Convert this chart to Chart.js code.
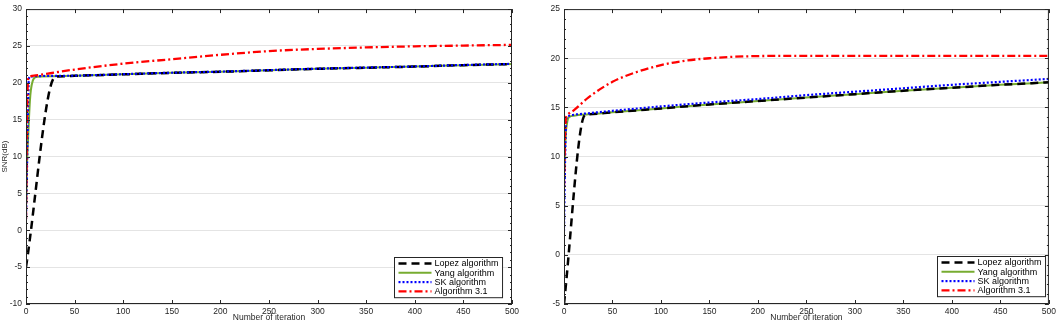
<!DOCTYPE html>
<html>
<head>
<meta charset="utf-8">
<script src="https://cdn.jsdelivr.net/npm/chart.js@4.4.0/dist/chart.umd.min.js"></script>
<style>
  body { margin: 0; background: #fff; }
  #wrap { position: relative; width: 1059px; height: 322px; }
  canvas { position: absolute; top: 0; }
</style>
</head>
<body>
<div id="wrap">
  <canvas id="leftChart" width="530" height="322" style="left:0"></canvas>
  <canvas id="rightChart" width="529" height="322" style="left:530px"></canvas>
</div>
<script>
const seriesNames = ["Lopez algorithm", "Yang algorithm", "SK algorithm", "Algorithm 3.1"];

// ---- left panel ----
const lopezIterL = [0, 30, 40, 50, 100, 150, 200, 250, 300, 350, 400, 450, 500];
const lopezSnrL = [-5, 20.8, 20.9, 20.95, 21.15, 21.35, 21.5, 21.7, 21.9, 22.05, 22.2, 22.4, 22.55];
const yangIterL = [0, 1, 2, 3, 4, 5, 7, 10, 15, 50, 100, 150, 200, 250, 300, 350, 400, 450, 500];
const yangSnrL = [3, 9, 12, 15, 17.5, 19, 20.3, 20.8, 20.85, 20.95, 21.15, 21.35, 21.5, 21.7, 21.9, 22.05, 22.2, 22.4, 22.55];
const skIterL = [0, 1, 2, 3, 5, 10, 50, 100, 150, 200, 250, 300, 350, 400, 450, 500];
const skSnrL = [1.5, 8, 16, 20.6, 20.85, 20.9, 20.97, 21.17, 21.37, 21.52, 21.72, 21.92, 22.07, 22.22, 22.42, 22.57];
const algIterL = [0, 1, 2, 3, 5, 10, 25, 50, 100, 150, 200, 250, 300, 350, 400, 450, 500];
const algSnrL = [1.5, 15, 20.3, 20.8, 20.9, 21.0, 21.3, 21.8, 22.6, 23.2, 23.8, 24.3, 24.6, 24.8, 24.95, 25.05, 25.15];

// ---- right panel ----
const lopezIterR = [0, 21, 25, 50, 100, 150, 200, 250, 300, 350, 400, 450, 500];
const lopezSnrR = [-5, 14.15, 14.3, 14.5, 14.9, 15.3, 15.65, 16.0, 16.35, 16.7, 17.0, 17.3, 17.55];
const yangIterR = [0, 2, 3, 4, 6, 10, 25, 50, 100, 150, 200, 250, 300, 350, 400, 450, 500];
const yangSnrR = [8, 12.5, 13.3, 13.8, 14.05, 14.15, 14.3, 14.5, 14.9, 15.3, 15.65, 16.0, 16.35, 16.7, 17.0, 17.3, 17.55];
const skIterR = [0, 1, 2, 3, 5, 10, 25, 50, 100, 150, 200, 250, 300, 350, 400, 450, 500];
const skSnrR = [2.4, 9, 13.2, 14.0, 14.15, 14.25, 14.4, 14.65, 15.1, 15.5, 15.85, 16.25, 16.6, 16.95, 17.3, 17.6, 17.9];
const algIterR = [0, 1, 2, 4, 10, 25, 50, 75, 100, 125, 150, 175, 200, 250, 300, 400, 500];
const algSnrR = [6.8, 12, 13.9, 14.3, 14.7, 16.0, 17.6, 18.6, 19.3, 19.75, 20.0, 20.15, 20.22, 20.25, 20.25, 20.25, 20.25];

const xTickStep = 50;
const yTickStep = 5;

const FONT = "'Liberation Sans', Arial, Helvetica, sans-serif";
const INK = "#262626";

function pts(xs, ys) {
  return xs.map((x, i) => ({ x: x, y: ys[i] }));
}

function makeDatasets(p) {
  return [
    { label: seriesNames[0], data: pts(p[0], p[1]), borderColor: "#000000", borderWidth: 2.5, borderDash: [8, 5], order: 2 },
    { label: seriesNames[1], data: pts(p[2], p[3]), borderColor: "#77ac30", borderWidth: 2, borderDash: [], order: 3 },
    { label: seriesNames[2], data: pts(p[4], p[5]), borderColor: "#0000ff", borderWidth: 2.2, borderDash: [2, 2], order: 1 },
    { label: seriesNames[3], data: pts(p[6], p[7]), borderColor: "#ff0000", borderWidth: 2.3, borderDash: [8, 3, 2, 3], order: 0 },
  ];
}

// box, inward ticks and the legend, drawn like a matlab figure
const framePlugin = {
  id: "matlabFrame",
  afterDatasetsDraw(chart, args, opts) {
    const { ctx, chartArea: a, scales } = chart;
    const seg = (x1, y1, x2, y2) => {
      ctx.beginPath();
      ctx.moveTo(x1, y1);
      ctx.lineTo(x2, y2);
      ctx.stroke();
    };
    ctx.save();
    ctx.strokeStyle = INK;
    ctx.lineWidth = 1;
    ctx.setLineDash([]);
    ctx.strokeRect(a.left + 0.5, a.top + 0.5, a.right - a.left - 1, a.bottom - a.top - 1);

    scales.x.ticks.forEach((t) => {
      const px = Math.round(scales.x.getPixelForValue(t.value)) + 0.5;
      seg(px, a.bottom, px, a.bottom - 4);
      seg(px, a.top, px, a.top + 4);
    });
    for (let v = scales.y.min; v <= scales.y.max; v += 1) {
      const py = Math.round(scales.y.getPixelForValue(v)) + 0.5;
      const len = v % yTickStep === 0 ? 4 : 2;
      seg(a.left, py, a.left + len, py);
      seg(a.right, py, a.right - len, py);
    }

    // legend
    ctx.font = "9px " + FONT;
    const sets = chart.data.datasets;
    const textW = Math.max(...sets.map((d) => ctx.measureText(d.label).width));
    const sample = 33;
    const rowH = 9.3;
    const w = 4 + sample + 3 + textW + 4;
    const h = rowH * sets.length + 3;
    const x0 = Math.round(a.right - opts.offsetRight - w) + 0.5;
    const y0 = Math.round(a.bottom - opts.offsetBottom - h) + 0.5;
    ctx.fillStyle = "#ffffff";
    ctx.fillRect(x0, y0, w, h);
    ctx.strokeStyle = INK;
    ctx.lineWidth = 1;
    ctx.strokeRect(x0, y0, w, h);
    sets.forEach((d, i) => {
      const cy = y0 + 6 + i * rowH;
      ctx.strokeStyle = d.borderColor;
      ctx.lineWidth = d.borderWidth;
      ctx.setLineDash(d.borderDash);
      seg(x0 + 4, cy, x0 + 4 + sample, cy);
      ctx.setLineDash([]);
      ctx.fillStyle = "#000000";
      ctx.textBaseline = "middle";
      ctx.textAlign = "left";
      ctx.fillText(d.label, x0 + 4 + sample + 3, cy + 0.5);
    });
    ctx.restore();
  },
};

function makeChart(id, datasets, yMin, yMax, yWidth, padRight, legendPos, yTitle) {
  return new Chart(document.getElementById(id), {
    type: "line",
    data: { datasets: datasets },
    options: {
      responsive: false,
      animation: false,
      devicePixelRatio: 1,
      layout: { padding: { top: 3, right: padRight, bottom: 0, left: 0 } },
      elements: {
        point: { radius: 0 },
        line: { cubicInterpolationMode: "monotone", borderCapStyle: "butt" },
      },
      plugins: {
        legend: { display: false },
        tooltip: { enabled: false },
        matlabFrame: legendPos,
      },
      scales: {
        x: {
          type: "linear",
          min: 0,
          max: 500,
          grid: { display: false, drawTicks: false },
          border: { display: false },
          ticks: { stepSize: xTickStep, padding: 3, color: INK, font: { family: FONT, size: 8.5 }, maxRotation: 0 },
          title: { display: true, text: "Number of iteration", color: INK, font: { family: FONT, size: 8.5 }, padding: { top: 0, bottom: -1 } },
          afterFit: (s) => { s.height = 18; },
        },
        y: {
          min: yMin,
          max: yMax,
          grid: { color: "#e4e4e4", drawTicks: false },
          border: { display: false },
          ticks: { stepSize: yTickStep, padding: 4, color: INK, font: { family: FONT, size: 8.5 } },
          title: { display: !!yTitle, text: yTitle, color: INK, font: { family: FONT, size: 8 }, padding: { top: 0, bottom: 0 } },
          afterFit: (s) => { s.width = yWidth; },
        },
      },
    },
    plugins: [framePlugin],
  });
}

makeChart("leftChart",
  makeDatasets([lopezIterL, lopezSnrL, yangIterL, yangSnrL, skIterL, skSnrL, algIterL, algSnrL]),
  -10, 30, 26, 18, { offsetRight: 10, offsetBottom: 7 }, "SNR(dB)");

makeChart("rightChart",
  makeDatasets([lopezIterR, lopezSnrR, yangIterR, yangSnrR, skIterR, skSnrR, algIterR, algSnrR]),
  -5, 25, 34, 7, { offsetRight: 4, offsetBottom: 8 }, "");
</script>
</body>
</html>
